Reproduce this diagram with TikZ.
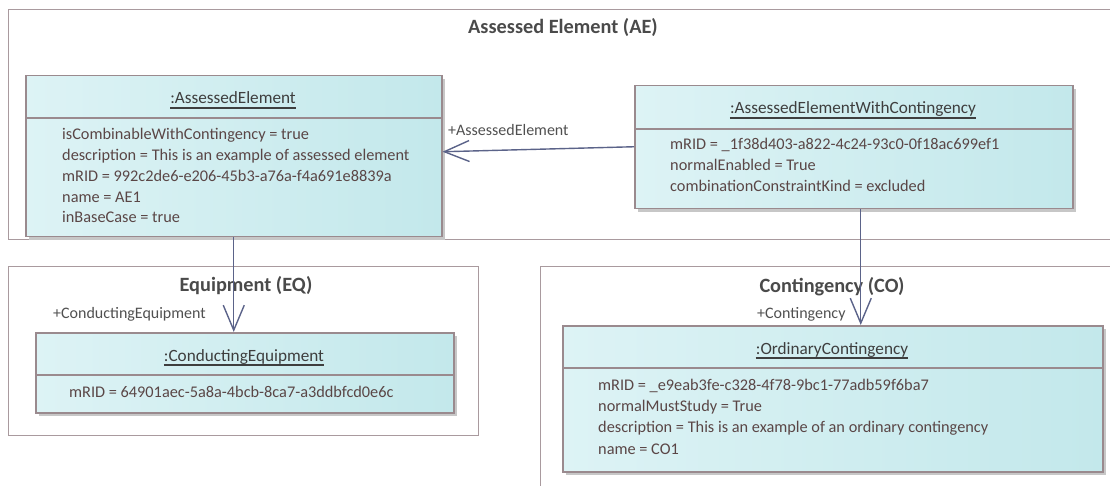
\documentclass[tikz,border=0pt]{standalone}
\usepackage{fontspec}
\setmainfont{Carlito}
\usetikzlibrary{arrows.meta,calc,shadows}
\definecolor{pkgline}{HTML}{A99A9E}
\definecolor{pkgtext}{HTML}{4A4A4A}
\definecolor{boxline}{HTML}{9A8A8E}
\definecolor{boxL}{HTML}{DDF3F5}
\definecolor{boxR}{HTML}{C3E8EB}
\definecolor{titletext}{HTML}{3E3E3E}
\definecolor{attrtext}{HTML}{5A4646}
\definecolor{labeltext}{HTML}{505050}
\definecolor{arrowc}{HTML}{5B6389}
\begin{document}
\begin{tikzpicture}[x=1pt,y=-1pt,
  pkg/.style={draw=pkgline,line width=1.3pt,anchor=north west,inner sep=0pt},
  pkgtitle/.style={anchor=base,inner sep=0pt,text=pkgtext,font=\fontsize{20.3}{24}\selectfont\bfseries},
  objbox/.style={draw=boxline,line width=1.5pt,left color=boxL,right color=boxR,anchor=north west,inner sep=0pt,
    drop shadow={shadow xshift=3.5pt,shadow yshift=-3.5pt,fill=black!22,opacity=1}},
  divider/.style={draw=boxline,line width=1.5pt},
  objtitle/.style={anchor=base,inner sep=0pt,text=titletext,font=\fontsize{17.2}{21}\selectfont},
  uline/.style={draw=titletext,line width=1.4pt},
  attr/.style={anchor=base west,inner sep=0pt,text=attrtext,font=\fontsize{16.3}{21}\selectfont},
  rolelabel/.style={anchor=base west,inner sep=0pt,text=labeltext,font=\fontsize{16}{20}\selectfont},
  assoc/.style={draw=arrowc,line width=1.4pt,-{Straight Barb[length=25pt,width=21pt]}}
]
\useasboundingbox (0,0) rectangle (1110,486);

% packages
\node[pkg,minimum width=1112pt,minimum height=230pt] (pkgAE) at (8,9) {};
\node[pkg,minimum width=470pt,minimum height=169pt] (pkgEQ) at (8,266) {};
\node[pkg,minimum width=580pt,minimum height=240pt] (pkgCO) at (540,266) {};
\node[pkgtitle] (tAE) at (563,34) {Assessed Element (AE)};
\node[pkgtitle] (tEQ) at (246,291.5) {Equipment (EQ)};
\node[pkgtitle] (tCO) at (832,292) {Contingency (CO)};

% :AssessedElement
\node[objbox,minimum width=416pt,minimum height=161pt] (ae) at (25,75) {};
\draw[divider] ([yshift=-43pt]ae.north west) -- ([yshift=-43pt]ae.north east);
\node[objtitle] (aeT) at (233,104) {:AssessedElement};
\draw[uline] ([yshift=-4pt]aeT.base west) -- ([yshift=-4pt]aeT.base east);
\node[attr] (ae1) at (62,140) {isCombinableWithContingency = true};
\node[attr] (ae2) at (62,161) {description = This is an example of assessed element};
\node[attr] (ae3) at (62,182) {mRID = 992c2de6-e206-45b3-a76a-f4a691e8839a};
\node[attr] (ae4) at (62,203) {name = AE1};
\node[attr] (ae5) at (62,223) {inBaseCase = true};

% :AssessedElementWithContingency
\node[objbox,minimum width=438pt,minimum height=123pt] (aewc) at (634,85) {};
\draw[divider] ([yshift=-44pt]aewc.north west) -- ([yshift=-44pt]aewc.north east);
\node[objtitle] (aewcT) at (853,114) {:AssessedElementWithContingency};
\draw[uline] ([yshift=-4pt]aewcT.base west) -- ([yshift=-4pt]aewcT.base east);
\node[attr] (aewc1) at (670,150) {mRID = \_1f38d403-a822-4c24-93c0-0f18ac699ef1};
\node[attr] (aewc2) at (670,171) {normalEnabled = True};
\node[attr] (aewc3) at (670,192) {combinationConstraintKind = excluded};

% :ConductingEquipment
\node[objbox,minimum width=418pt,minimum height=80pt] (ce) at (35,332) {};
\draw[divider] ([yshift=-43pt]ce.north west) -- ([yshift=-43pt]ce.north east);
\node[objtitle] (ceT) at (244,361) {:ConductingEquipment};
\draw[uline] ([yshift=-4pt]ceT.base west) -- ([yshift=-4pt]ceT.base east);
\node[attr] (ce1) at (69,397) {mRID = 64901aec-5a8a-4bcb-8ca7-a3ddbfcd0e6c};

% :OrdinaryContingency
\node[objbox,minimum width=540pt,minimum height=146pt] (oc) at (562,325) {};
\draw[divider] ([yshift=-43pt]oc.north west) -- ([yshift=-43pt]oc.north east);
\node[objtitle] (ocT) at (832,354) {:OrdinaryContingency};
\draw[uline] ([yshift=-4pt]ocT.base west) -- ([yshift=-4pt]ocT.base east);
\node[attr] (oc1) at (598,390) {mRID = \_e9eab3fe-c328-4f78-9bc1-77adb59f6ba7};
\node[attr] (oc2) at (598,411) {normalMustStudy = True};
\node[attr] (oc3) at (598,432) {description = This is an example of an ordinary contingency};
\node[attr] (oc4) at (598,454) {name = CO1};

% associations
\draw[assoc] ([yshift=0.5pt]aewc.west) -- ([yshift=4.5pt]ae.east);
\draw[assoc] (ae.south) -- (ae.south |- ce.north);
\draw[assoc] ([xshift=7pt]aewc.south) -- ([xshift=7pt]aewc.south |- oc.north);

% role labels
\node[rolelabel] (lAE) at (448,136) {+AssessedElement};
\node[rolelabel] (lCE) at (53,318) {+ConductingEquipment};
\node[rolelabel] (lCO) at (757,318) {+Contingency};
\end{tikzpicture}
\end{document}
